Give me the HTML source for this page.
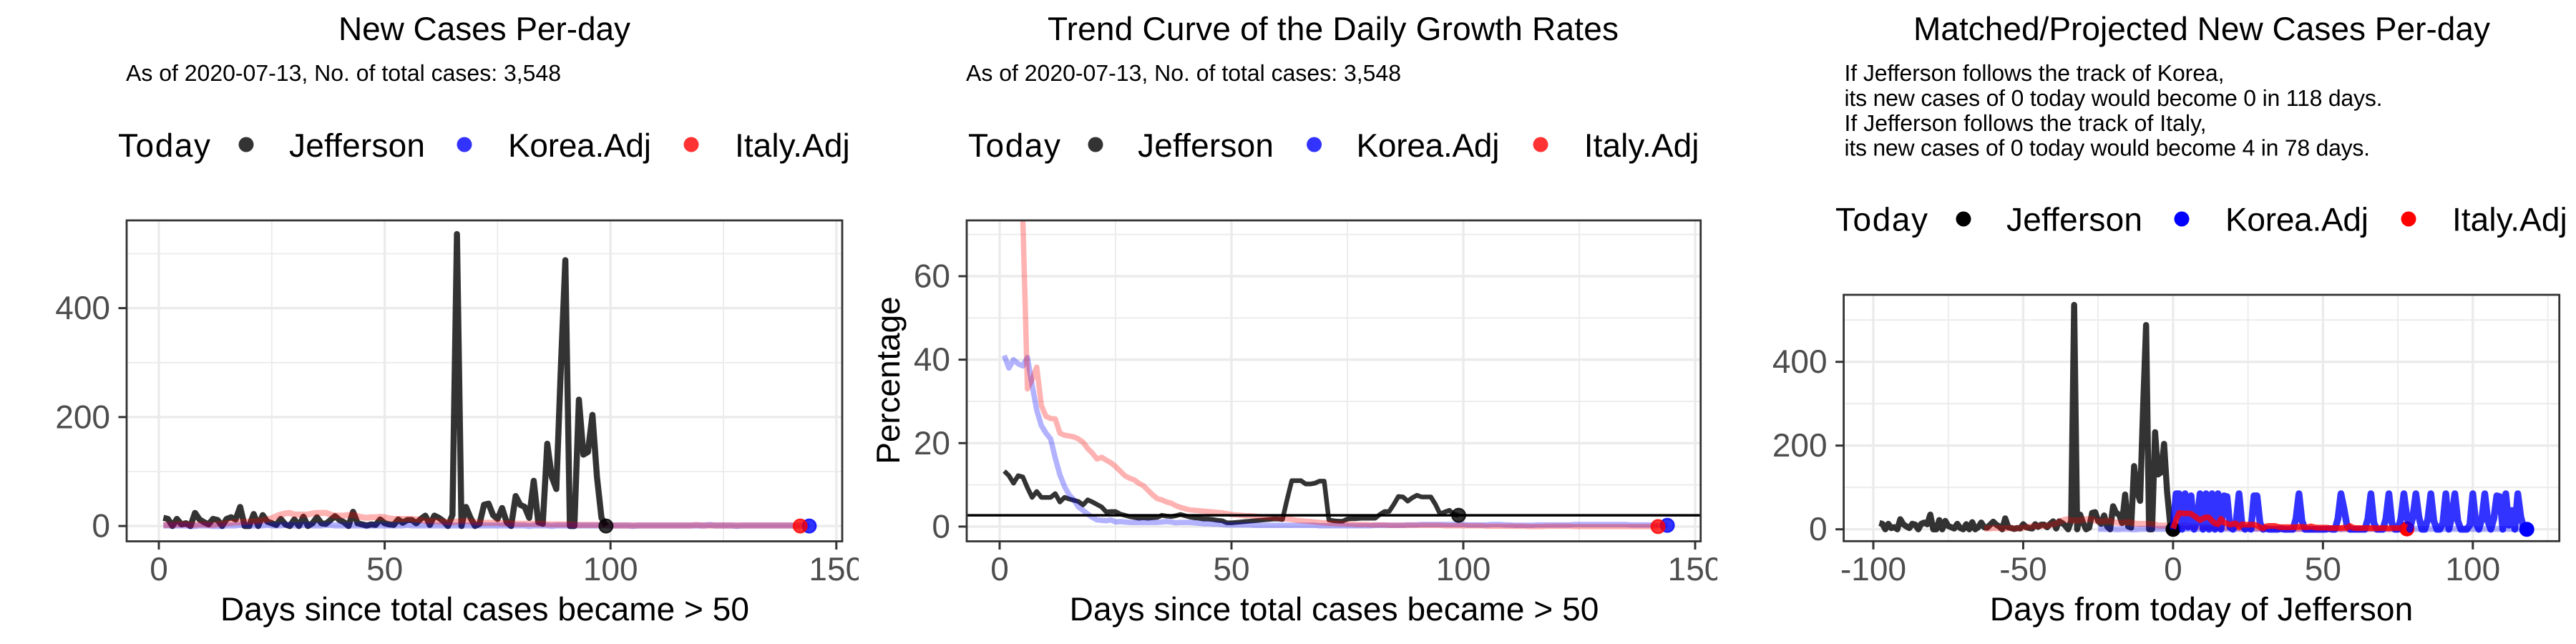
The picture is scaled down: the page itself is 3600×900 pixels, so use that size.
<!DOCTYPE html>
<html lang="en">
<head>
<meta charset="utf-8">
<title>Jefferson new cases charts</title>
<style>
html,body{margin:0;padding:0;background:#fff;}
svg{display:block;font-family:"Liberation Sans",Arial,sans-serif;text-rendering:geometricPrecision;}
.title{font-size:46px;fill:#000;text-anchor:middle;}
.sub{font-size:32px;fill:#000;}
.leg{font-size:46px;fill:#000;}
.tick{font-size:46px;fill:#4d4d4d;}
.axt{font-size:46px;fill:#000;text-anchor:middle;}
</style>
</head>
<body>
<svg id="chart" xmlns="http://www.w3.org/2000/svg" width="3600" height="900" viewBox="0 0 3600 900">
  <defs>
    <clipPath id="clip-a"><rect x="0" y="0" width="1200" height="900"/></clipPath>
    <clipPath id="clip-b"><rect x="1200" y="0" width="1200" height="900"/></clipPath>
    <clipPath id="clip-c"><rect x="2400" y="0" width="1200" height="900"/></clipPath>
    <clipPath id="plot-a"><rect x="177" y="308" width="1000" height="448.500"/></clipPath>
    <clipPath id="plot-b"><rect x="1351" y="308" width="1025.700" height="448.500"/></clipPath>
    <clipPath id="plot-c"><rect x="2576.600" y="412" width="1000.100" height="344.300"/></clipPath>
  </defs>
  <rect x="0" y="0" width="3600" height="900" fill="#ffffff"/>

  <g id="panel-a" clip-path="url(#clip-a)">
    <text class="title" x="677" y="56" textLength="408">New Cases Per-day</text>
    <text class="sub" x="176" y="113" textLength="608">As of 2020-07-13, No. of total cases: 3,548</text>
    <text class="leg" x="165" y="219" textLength="129">Today</text>
    <circle cx="344" cy="202" r="10.500" fill="#333333"/>
    <text class="leg" x="404" y="219" textLength="190">Jefferson</text>
    <circle cx="649" cy="202" r="10.500" fill="#3333ff"/>
    <text class="leg" x="710" y="219" textLength="200">Korea.Adj</text>
    <circle cx="966" cy="202" r="10.500" fill="#ff3333"/>
    <text class="leg" x="1027" y="219" textLength="160.700">Italy.Adj</text>
    <text class="axt" x="677.500" y="867" textLength="739">Days since total cases became &gt; 50</text>
  </g>

  <g id="panel-b" clip-path="url(#clip-b)">
    <text class="title" x="1863" y="56" textLength="798">Trend Curve of the Daily Growth Rates</text>
    <text class="sub" x="1350" y="113" textLength="608">As of 2020-07-13, No. of total cases: 3,548</text>
    <text class="leg" x="1353" y="219" textLength="129">Today</text>
    <circle cx="1531" cy="202" r="10.500" fill="#333333"/>
    <text class="leg" x="1590" y="219" textLength="190">Jefferson</text>
    <circle cx="1836.600" cy="202" r="10.500" fill="#3333ff"/>
    <text class="leg" x="1895.500" y="219" textLength="200">Korea.Adj</text>
    <circle cx="2153" cy="202" r="10.500" fill="#ff3333"/>
    <text class="leg" x="2213.800" y="219" textLength="160.700">Italy.Adj</text>
    <text class="axt" x="1864.500" y="867" textLength="739.700">Days since total cases became &gt; 50</text>
    <text class="axt" transform="translate(1257,531.500) rotate(-90)" x="0" y="0" textLength="234.500">Percentage</text>
  </g>

  <g id="panel-c" clip-path="url(#clip-c)">
    <text class="title" x="3077" y="56" textLength="806">Matched/Projected New Cases Per-day</text>
    <text class="sub" x="2577.500" y="113" textLength="531">If Jefferson follows the track of Korea,</text>
    <text class="sub" x="2577.500" y="148" textLength="752">its new cases of 0 today would become 0 in 118 days.</text>
    <text class="sub" x="2577.500" y="183" textLength="506">If Jefferson follows the track of Italy,</text>
    <text class="sub" x="2577.500" y="217.700" textLength="734.500">its new cases of 0 today would become 4 in 78 days.</text>
    <text class="leg" x="2565" y="322.700" textLength="129">Today</text>
    <circle cx="2744" cy="306" r="10.500" fill="#000000"/>
    <text class="leg" x="2804" y="322.700" textLength="190">Jefferson</text>
    <circle cx="3049" cy="306" r="10.500" fill="#0000ff"/>
    <text class="leg" x="3110" y="322.700" textLength="200">Korea.Adj</text>
    <circle cx="3366" cy="306" r="10.500" fill="#ff0000"/>
    <text class="leg" x="3427" y="322.700" textLength="160.700">Italy.Adj</text>
    <text class="axt" x="3076.500" y="867" textLength="591.400">Days from today of Jefferson</text>
  </g>
</svg>

<script>
// ---- Tick values ----
const dayTicks = [0, 50, 100, 150];
const dayMinorTicks = [25, 75, 125];
const casesTicks = [0, 200, 400];
const casesMinorTicks = [100, 300, 500];
const growthTicks = [0, 20, 40, 60];
const growthMinorTicks = [10, 30, 50, 70];
const relDayTicks = [-100, -50, 0, 50, 100];
const relDayMinorTicks = [-75, -25, 25, 75, 125];

// ---- New cases per day, first value is day 1 ----
const jeffersonCases = [
15,13,0,13,3,5,0,24,12,7,
3,13,11,0,13,16,12,35,0,0,
22,0,20,8,5,2,13,3,0,12,
0,17,0,5,16,5,4,11,18,11,
7,0,26,5,3,1,3,2,12,5,
3,2,12,6,11,11,5,13,19,2,
19,15,9,0,20,536,0,35,15,0,
4,39,41,20,13,33,7,0,55,39,
35,15,83,7,4,151,90,68,290,488,
0,0,232,131,136,204,90,15,0];

const koreaCases = [
1,1,1,1,1,1,0,0,1,1,
1,0,0,0,1,1,1,2,2,1,
1,1,1,2,1,1,1,2,2,1,
1,2,2,1,1,1,2,2,1,1,
1,1,1,1,1,0,1,1,1,1,
1,1,1,1,2,1,1,1,1,1,
1,1,1,1,1,1,1,1,1,1,
1,1,1,1,1,1,1,1,1,1,
1,0,1,1,1,1,0,1,1,1,
1,1,1,1,1,1,1,1,1,1,
1,1,1,1,0,1,1,1,1,1,
1,1,1,1,1,1,1,1,1,1,
1,2,1,1,1,1,1,0,1,1,
1,1,1,1,1,1,1,1,1,1,
1,1,0,0];

const italyCases = [
2,2,2,3,3,3,2,2,3,3,
2,2,3,4,5,6,7,7,8,8,
8,9,10,12,14,18,21,23,24,21,
21,21,21,23,24,24,24,21,19,19,
19,20,21,18,16,15,16,16,17,16,
14,13,13,13,13,13,12,11,9,9,
9,8,8,7,7,8,9,9,8,7,
6,6,6,6,6,5,5,5,4,4,
4,4,4,4,4,3,3,3,3,3,
3,2,2,2,2,2,2,2,2,1,
1,1,1,1,1,1,1,1,1,1,
1,1,1,1,1,1,1,1,2,1,
1,1,1,1,1,1,1,1,1,1,
1,1,1,1,1,1,1,1,1,1,
0,0];

// ---- Daily growth rate (%), first value is day 1 ----
const jeffersonGrowth = [
13.3,12.2,10.4,12.2,11.9,9.3,7,8.4,7,7,
7,7.9,5.9,7,6.6,6.3,6,5.2,6.4,5.9,
5.3,4.7,3.5,3.6,3.6,3,2.7,2.4,2.2,2,
2.1,2,2.1,2.2,2.7,2.5,2.4,2.6,2.9,2.6,
2.3,2.1,2,1.8,1.8,1.7,1.5,1.4,0.9,0.9,
1,1.1,1.2,1.3,1.4,1.5,1.6,1.7,1.8,1.8,
1.7,6.5,11,11,11,10.2,10.2,10.4,10.9,10.9,
1.6,1.4,1.3,1.3,1.8,1.9,1.9,2,2,2,
2,2.9,3.6,3.6,5.3,7.2,7.1,6.1,6.9,7.5,
7.1,7.1,7.1,5.3,3,3.5,3.9,2.9,2.7];

const koreaGrowth = [
41,38,40,39,38.5,40.5,34,27.9,24.2,22.4,
21,16.4,12.4,9.6,7.6,6.4,4.7,3.9,3,2.2,
1.6,1.5,1.4,1.6,1.1,1.2,1.1,1,1,1,
1,1,1,1,1.1,1.2,1.1,0.9,1,1,
1,0.9,0.8,0.7,0.7,0.6,0.6,0.5,0.4,0.4,
0.4,0.4,0.4,0.4,0.3,0.3,0.3,0.3,0.3,0.3,
0.3,0.3,0.3,0.3,0.3,0.3,0.3,0.3,0.2,0.2,
0.2,0.2,0.2,0.2,0.2,0.2,0.2,0.2,0.2,0.2,
0.3,0.3,0.3,0.3,0.3,0.3,0.3,0.4,0.4,0.4,
0.5,0.5,0.5,0.5,0.5,0.5,0.5,0.5,0.5,0.5,
0.4,0.4,0.4,0.4,0.4,0.5,0.5,0.5,0.4,0.4,
0.3,0.3,0.3,0.3,0.3,0.4,0.4,0.4,0.4,0.4,
0.4,0.4,0.4,0.5,0.5,0.5,0.5,0.5,0.5,0.5,
0.5,0.5,0.5,0.5,0.5,0.4,0.4,0.4,0.4,0.4,
0.4,0.3,0.3,0.3];

const italyGrowth = [
74,74,74,74,74,33,35.3,38.2,29,26.4,
25.9,25.8,22.4,21.9,21.7,21.5,21,20.2,18.7,17.6,
16.2,16.6,15.9,15.3,14.4,13.3,12.2,11.6,11.2,10.4,
9.8,8.7,7.6,6.7,6.4,5.9,5.6,5,4.6,4.3,
4,3.9,3.8,3.7,3.6,3.5,3.4,3.3,3.1,2.9,
2.8,2.7,2.6,2.6,2.5,2.4,2.3,2.2,2.1,2,
1.9,1.8,1.7,1.5,1.4,1.3,1.2,1.1,1,0.9,
0.8,0.8,0.7,0.7,0.6,0.6,0.5,0.5,0.5,0.4,
0.4,0.4,0.4,0.3,0.3,0.3,0.3,0.3,0.3,0.3,
0.3,0.3,0.3,0.3,0.3,0.2,0.2,0.2,0.2,0.2,
0.2,0.2,0.2,0.2,0.1,0.1,0.1,0.1,0.1,0.1,
0.1,0.1,0.1,0,0,0,0,0.1,0.1,0.1,
0.1,0.1,0.1,0,0,0,0,0,0,0,
0,0,0,0,0,0,0,0,0,0,
0,0];

// ---- Projected new cases, first value is day 0 (today) ----
const koreaProjection = [
0,85,85,0,85,5,80,0,20,85,
0,85,0,85,0,85,0,80,78,5,
0,15,85,10,0,5,0,80,80,15,
0,2,0,0,0,0,2,0,0,0,
0,25,85,20,0,0,0,0,0,0,
0,0,2,0,0,25,85,50,10,0,
0,0,0,0,0,25,85,15,0,0,
0,25,85,15,0,0,25,85,30,0,
30,85,30,0,0,25,85,20,0,0,
15,85,0,30,85,20,0,0,0,10,
85,15,0,25,85,20,0,25,80,78,
0,85,10,45,0,85,30,2,0];

const italyProjection = [
2,22,39,38,38,38,37,32,27,22,
26,29,28,20,14,12,25,16,14,11,
13,14,5,12,11,11,11,11,9,5,
2,7,8,8,8,6,5,5,5,5,
5,5,6,6,5,5,7,5,4,4,
4,4,3,3,3,3,3,4,3,8,
4,3,3,3,3,3,3,3,2,3,
3,3,2,3,3,3,3,8,4];

// ---- Reference values ----
const growthReference = [2.7];
const italyPastDays = [64];
const koreaPastDays = [26];
const jeffersonDays = [99];

const NS = 'http://www.w3.org/2000/svg';

function mk(parent, tag, attrs) {
  const el = document.createElementNS(NS, tag);
  for (const k in attrs) el.setAttribute(k, attrs[k]);
  parent.appendChild(el);
  return el;
}

function linear(d0, r0, d1, r1) {
  return v => r0 + (v - d0) * (r1 - r0) / (d1 - d0);
}

function pathFrom(values, x, y, firstDay) {
  let d = '';
  for (let i = 0; i < values.length; i++) {
    d += (i ? 'L' : 'M') + x(firstDay + i).toFixed(2) + ' ' + y(values[i]).toFixed(2);
  }
  return d;
}

function addFrame(group, box, x, y, xMajor, xMinor, yMajor, yMinor, clipId, grid) {
  for (const v of yMinor) {
    const el = mk(grid, 'line', {x1: box.l, x2: box.r, y1: y(v), y2: y(v), stroke: '#ebebeb', 'stroke-width': 1.8});
    
    
  }
  for (const v of xMinor) {
    const el = mk(grid, 'line', {x1: x(v), x2: x(v), y1: box.t, y2: box.b, stroke: '#ebebeb', 'stroke-width': 1.8});
    
    
  }
  for (const v of yMajor) {
    const el = mk(grid, 'line', {x1: box.l, x2: box.r, y1: y(v), y2: y(v), stroke: '#ebebeb', 'stroke-width': 3.4});
    
    
  }
  for (const v of xMajor) {
    const el = mk(grid, 'line', {x1: x(v), x2: x(v), y1: box.t, y2: box.b, stroke: '#ebebeb', 'stroke-width': 3.4});
    
    
  }
  for (const v of yMajor) {
    const tick = mk(group, 'line', {x1: box.l - 11.5, x2: box.l, y1: y(v), y2: y(v), stroke: '#333333', 'stroke-width': 3});
    
    
    const label = mk(group, 'text', {class: 'tick', x: box.l - 23, y: y(v) + 15.5, 'text-anchor': 'end'});
    
    
    label.textContent = v;
  }
  for (const v of xMajor) {
    const tick = mk(group, 'line', {x1: x(v), x2: x(v), y1: box.b, y2: box.b + 11.5, stroke: '#333333', 'stroke-width': 3});
    
    
    const label = mk(group, 'text', {class: 'tick', x: x(v), y: 811, 'text-anchor': 'middle'});
    
    
    label.textContent = v;
  }
}

function addBorder(group, box) {
  const el = mk(group, 'rect', {x: box.l, y: box.t, width: box.r - box.l, height: box.b - box.t, fill: 'none', stroke: '#333333', 'stroke-width': 2.8});
  
  
}

function addLine(parent, values, x, y, firstDay, color, opacity, width, name) {
  const el = mk(parent, 'path', {d: pathFrom(values, x, y, firstDay), fill: 'none', stroke: color, 'stroke-opacity': opacity, 'stroke-width': width, 'stroke-linejoin': 'round', 'stroke-linecap': 'butt'});
  
  
  return el;
}

function addDot(parent, cx, cy, color, opacity, name) {
  const el = mk(parent, 'circle', {cx: cx, cy: cy, r: 9.5, fill: color, 'fill-opacity': opacity, stroke: color, 'stroke-opacity': opacity, 'stroke-width': 2});
  
  
  return el;
}

// ---- Panel 1: new cases ----
(function () {
  const group = document.getElementById('panel-a');
  const box = {l: 177, r: 1177, t: 308, b: 756.5};
  const x = linear(0, 222, 150, 1168.8);
  const y = linear(0, 735.1, 400, 430.6);
  const grid = mk(group, 'g', {'clip-path': 'url(#plot-a)'});
  
  
  addFrame(group, box, x, y, dayTicks, dayMinorTicks, casesTicks, casesMinorTicks, 'plot-a', grid);
  const plot = mk(group, 'g', {'clip-path': 'url(#plot-a)'});
  
  
  addLine(plot, jeffersonCases, x, y, 1, '#000000', 0.8, 8.5, 'jefferson-line');
  addLine(plot, koreaCases, x, y, 1, '#0000ff', 0.3, 8.5, 'korea-line');
  addLine(plot, italyCases, x, y, 1, '#ff0000', 0.3, 8.5, 'italy-line');
  addDot(plot, x(jeffersonCases.length), y(jeffersonCases[jeffersonCases.length - 1]), '#000000', 0.8, 'jefferson-today-dot');
  addDot(plot, x(koreaCases.length), y(koreaCases[koreaCases.length - 1]), '#0000ff', 0.8, 'korea-today-dot');
  addDot(plot, x(italyCases.length), y(italyCases[italyCases.length - 1]), '#ff0000', 0.8, 'italy-today-dot');
  addBorder(group, box);
})();

// ---- Panel 2: growth rates ----
(function () {
  const group = document.getElementById('panel-b');
  const box = {l: 1351, r: 2376.7, t: 308, b: 756.5};
  const x = linear(0, 1397, 150, 2369);
  const y = linear(0, 735.9, 60, 386);
  const grid = mk(group, 'g', {'clip-path': 'url(#plot-b)'});
  
  
  addFrame(group, box, x, y, dayTicks, dayMinorTicks, growthTicks, growthMinorTicks, 'plot-b', grid);
  const plot = mk(group, 'g', {'clip-path': 'url(#plot-b)'});
  
  
  addLine(plot, jeffersonGrowth, x, y, 1, '#000000', 0.8, 6.5, 'jefferson-line');
  addLine(plot, koreaGrowth, x, y, 1, '#0000ff', 0.3, 7.5, 'korea-line');
  addLine(plot, italyGrowth, x, y, 1, '#ff0000', 0.3, 7.5, 'italy-line');
  const ref = mk(plot, 'line', {x1: box.l, x2: box.r, y1: y(growthReference[0]), y2: y(growthReference[0]), stroke: '#000000', 'stroke-width': 3.5});
  
  
  addDot(plot, x(jeffersonGrowth.length), y(jeffersonGrowth[jeffersonGrowth.length - 1]), '#000000', 0.8, 'jefferson-today-dot');
  addDot(plot, x(koreaGrowth.length), y(koreaGrowth[koreaGrowth.length - 1]), '#0000ff', 0.8, 'korea-today-dot');
  addDot(plot, x(italyGrowth.length), y(italyGrowth[italyGrowth.length - 1]), '#ff0000', 0.8, 'italy-today-dot');
  addBorder(group, box);
})();

// ---- Panel 3: matched and projected ----
(function () {
  const group = document.getElementById('panel-c');
  const box = {l: 2576.6, r: 3576.7, t: 412, b: 756.3};
  const x = linear(-100, 2618, 100, 3455.8);
  const y = linear(0, 739.7, 400, 505.7);
  const grid = mk(group, 'g', {'clip-path': 'url(#plot-c)'});
  
  
  addFrame(group, box, x, y, relDayTicks, relDayMinorTicks, casesTicks, casesMinorTicks, 'plot-c', grid);
  const plot = mk(group, 'g', {'clip-path': 'url(#plot-c)'});
  
  
  addLine(plot, jeffersonCases, x, y, 1 - jeffersonDays[0], '#000000', 0.8, 8.5, 'jefferson-line');
  addLine(plot, koreaCases, x, y, 1 - koreaPastDays[0], '#0000ff', 0.3, 8.5, 'korea-matched-line');
  addLine(plot, italyCases, x, y, 1 - italyPastDays[0], '#ff0000', 0.3, 8.5, 'italy-matched-line');
  addDot(plot, x(0), y(jeffersonCases[jeffersonCases.length - 1]), '#000000', 1, 'jefferson-today-dot');
  addDot(plot, x(italyProjection.length - 1), y(1), '#ff0000', 1, 'italy-end-dot');
  addDot(plot, x(koreaProjection.length - 1), y(koreaProjection[koreaProjection.length - 1]), '#0000ff', 1, 'korea-end-dot');
  addLine(plot, koreaProjection, x, y, 0, '#0000ff', 0.8, 9.5, 'korea-projection-line');
  addLine(plot, italyProjection, x, y, 0, '#ff0000', 0.8, 8, 'italy-projection-line');
  addBorder(group, box);
})();
</script>
</body>
</html>
